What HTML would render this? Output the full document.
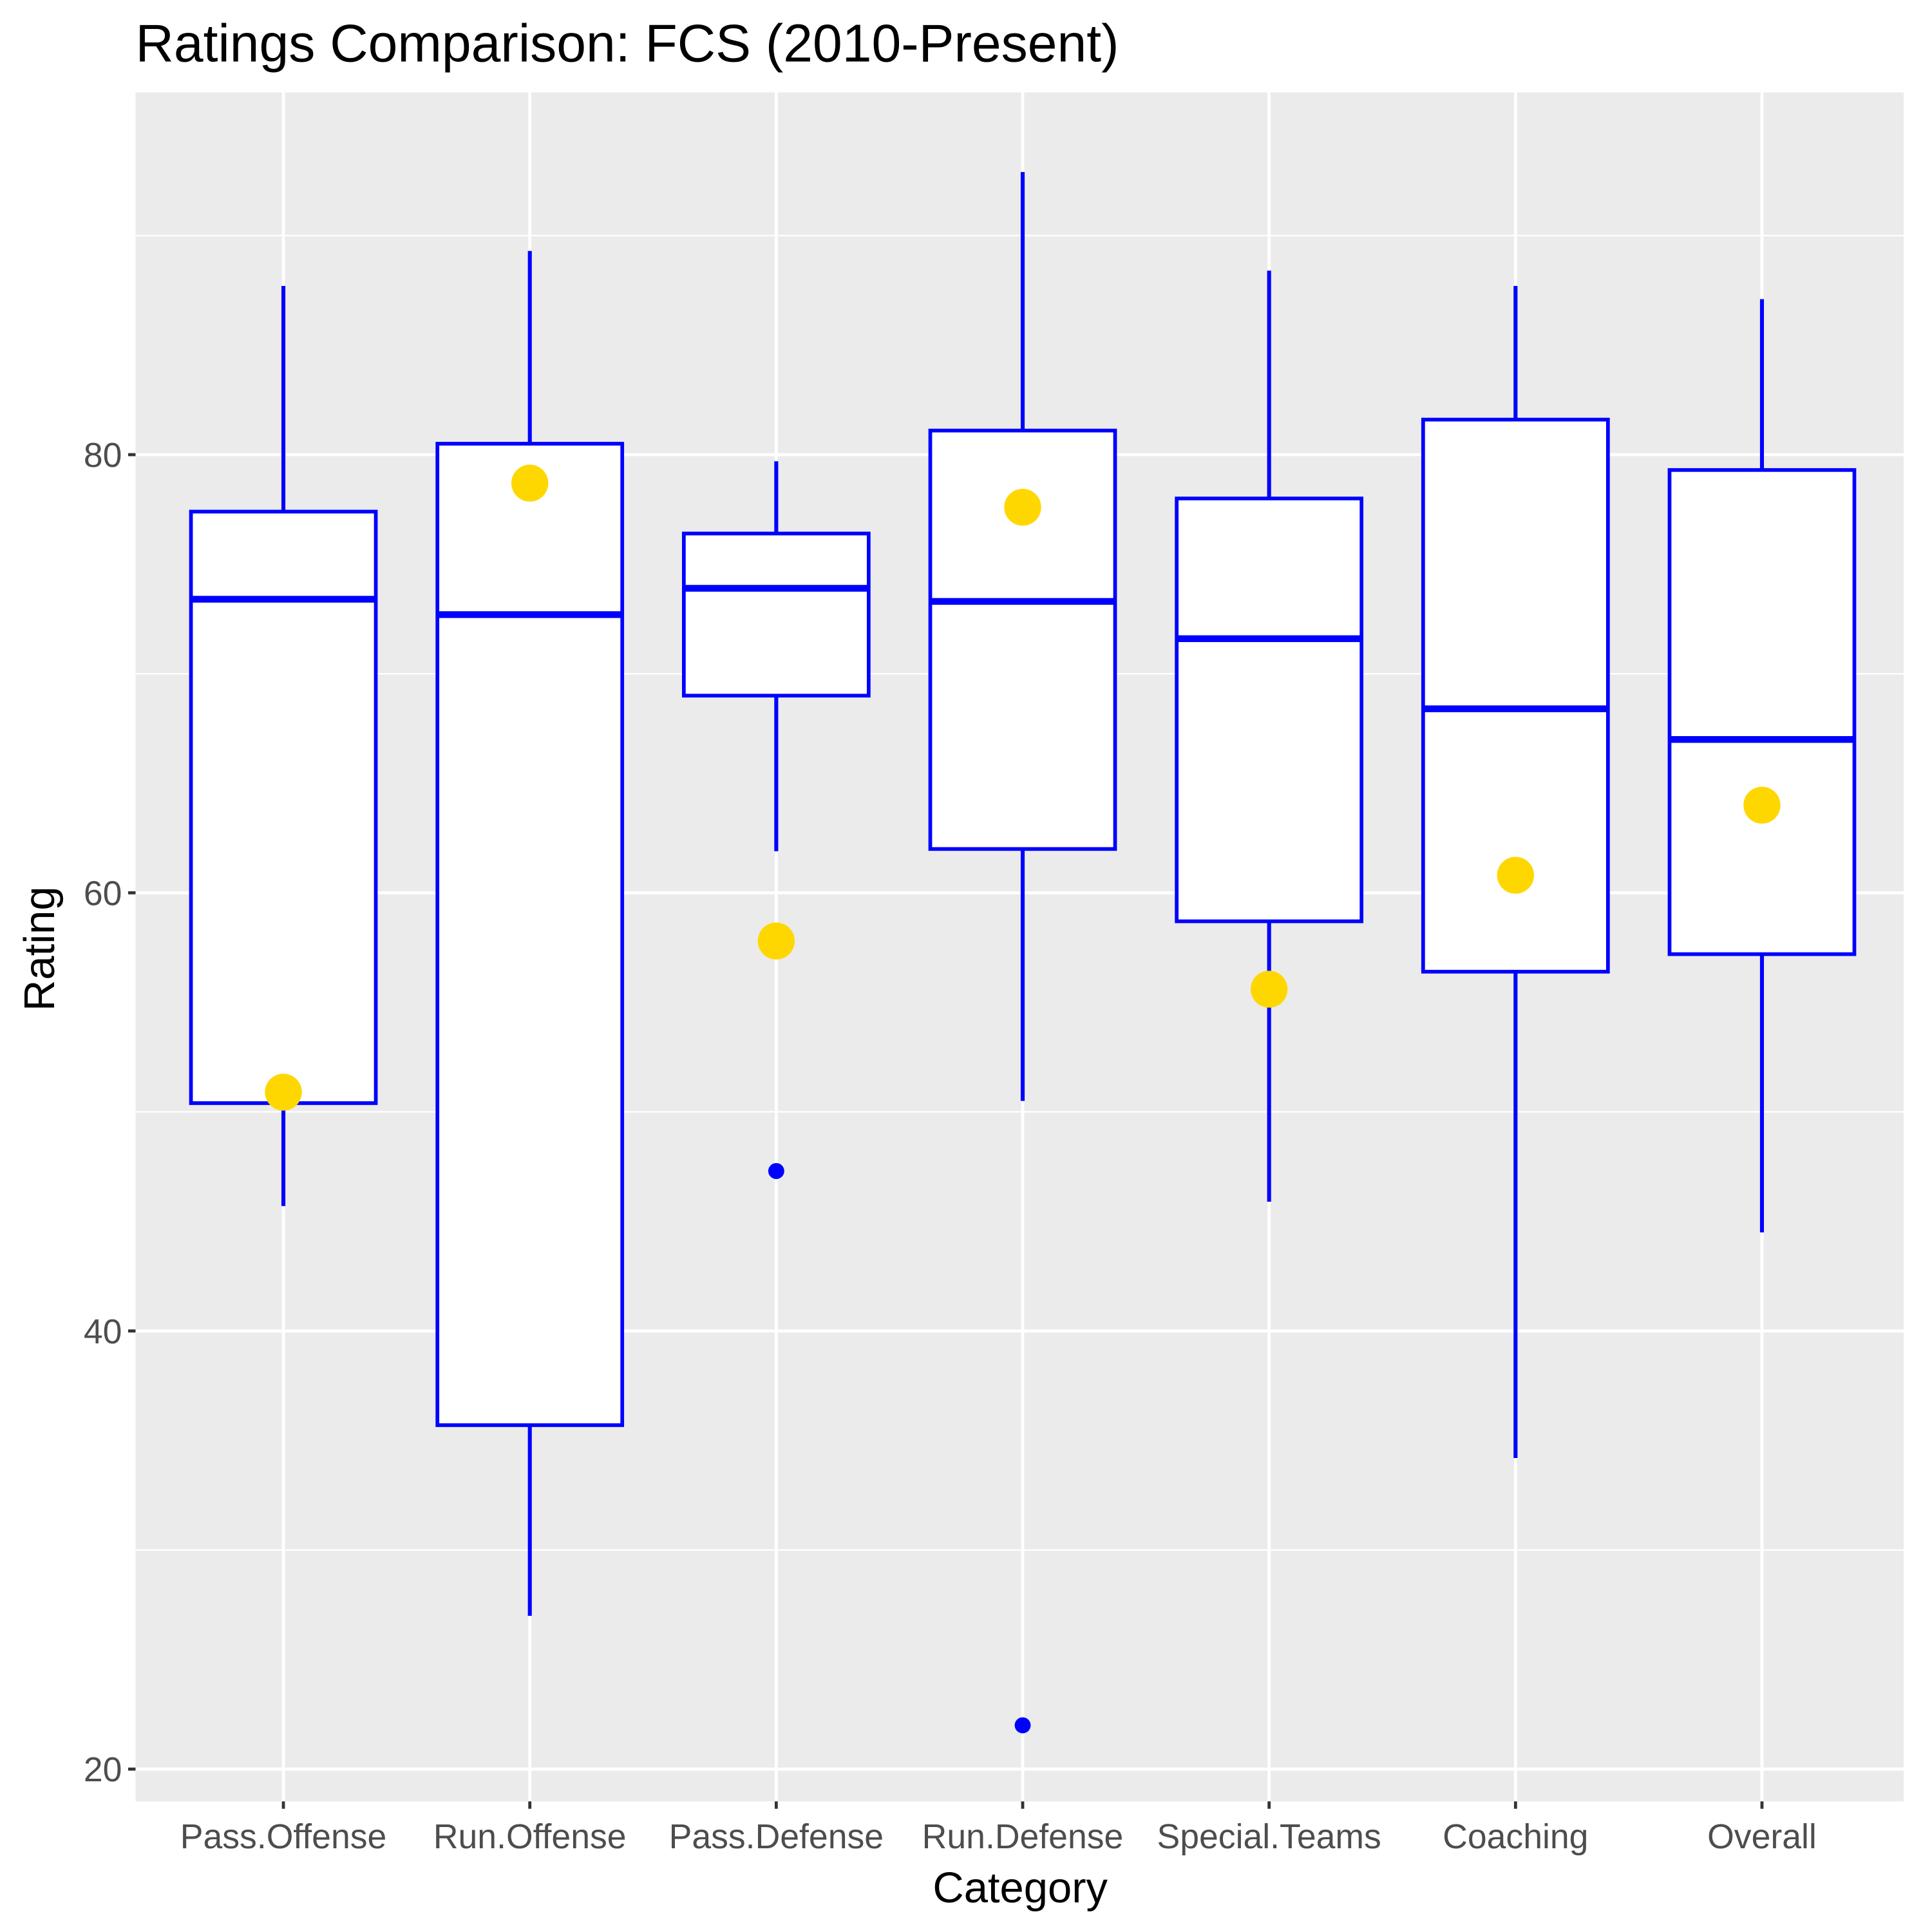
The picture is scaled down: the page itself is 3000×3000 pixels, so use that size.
<!DOCTYPE html>
<html><head><meta charset="utf-8"><style>
html,body{margin:0;padding:0;background:#fff;}
svg{display:block;font-family:"Liberation Sans",Arial,sans-serif;}
</style></head><body>
<svg id="chart" width="3000" height="3000" viewBox="0 0 1568 1568">
<text x="110" y="50" font-size="43" fill="#000">Ratings Comparison: FCS (2010-Present)</text>
<rect x="110" y="75" width="1435" height="1387" fill="#ebebeb"/>
<g id="grid"></g>
<g id="boxes"></g>
<g id="axes"></g>
<text x="828" y="1544" font-size="35" text-anchor="middle" fill="#000">Category</text>
<text transform="translate(44,770) rotate(-90)" font-size="35" text-anchor="middle" fill="#000">Rating</text>
</svg>
<script>
const categories=["Pass.Offense","Run.Offense","Pass.Defense","Run.Defense","Special.Teams","Coaching","Overall"];
const whiskerHigh=[87.7,89.3,79.7,92.9,88.4,87.7,87.1];
const q3=[77.4,80.5,76.4,81.1,78.0,81.6,79.3];
const median=[73.4,72.7,73.9,73.3,71.6,68.4,67.0];
const q1=[50.4,35.7,69.0,62.0,58.7,56.4,57.2];
const whiskerLow=[45.7,27.0,61.9,50.5,45.9,34.2,44.5];
const outlierCat=[2,3];
const outlierVal=[47.3,22.0];
const highlight=[50.9,78.7,57.8,77.6,55.6,60.8,64.0];
const yTicks=[20,40,60,80];
const yMinor=[30,50,70,90];

const NS="http://www.w3.org/2000/svg";
function y(v){return 369+(80-v)*17.78;}
function x(i){return 230+i*200;}
function mk(tag,attrs,parent){const e=document.createElementNS(NS,tag);for(const k in attrs)e.setAttribute(k,attrs[k]);parent.appendChild(e);return e;}
const grid=document.getElementById('grid'),boxes=document.getElementById('boxes'),axes=document.getElementById('axes');
yMinor.forEach(v=>{const l=mk('line',{x1:110,x2:1545,y1:y(v),y2:y(v),stroke:'#fff','stroke-width':1.2},grid);

});
yTicks.forEach(v=>{const l=mk('line',{x1:110,x2:1545,y1:y(v),y2:y(v),stroke:'#fff','stroke-width':2.5},grid);


const t=mk('line',{x1:104,x2:110,y1:y(v),y2:y(v),stroke:'#333','stroke-width':2.5},axes);


const tx=mk('text',{x:99,y:y(v)+10,'font-size':28,'text-anchor':'end',fill:'#4d4d4d'},axes);tx.textContent=v;

});
categories.forEach((c,i)=>{const cx=x(i);
const g=mk('line',{x1:cx,x2:cx,y1:75,y2:1462,stroke:'#fff','stroke-width':2.5},grid);


const t=mk('line',{x1:cx,x2:cx,y1:1462,y2:1468,stroke:'#333','stroke-width':2.5},axes);


const tx=mk('text',{x:cx,y:1500,'font-size':28,'text-anchor':'middle',fill:'#4d4d4d'},axes);tx.textContent=c;


const grp=mk('g',{},boxes);


mk('line',{x1:cx,x2:cx,y1:y(whiskerHigh[i]),y2:y(q3[i]),stroke:'#0000ff','stroke-width':3.2},grp);
mk('line',{x1:cx,x2:cx,y1:y(q1[i]),y2:y(whiskerLow[i]),stroke:'#0000ff','stroke-width':3.2},grp);
mk('rect',{x:cx-75,y:y(q3[i]),width:150,height:y(q1[i])-y(q3[i]),fill:'#fff',stroke:'#0000ff','stroke-width':3},grp);
mk('line',{x1:cx-75,x2:cx+75,y1:y(median[i]),y2:y(median[i]),stroke:'#0000ff','stroke-width':5.5},grp);
});
outlierCat.forEach((ci,k)=>{const c=mk('circle',{cx:x(ci),cy:y(outlierVal[k]),r:6.5,fill:'#0000ff'},boxes);

});
highlight.forEach((v,i)=>{const c=mk('circle',{cx:x(i),cy:y(v),r:15,fill:'#ffd700'},boxes);

});
</script>
</body></html>
